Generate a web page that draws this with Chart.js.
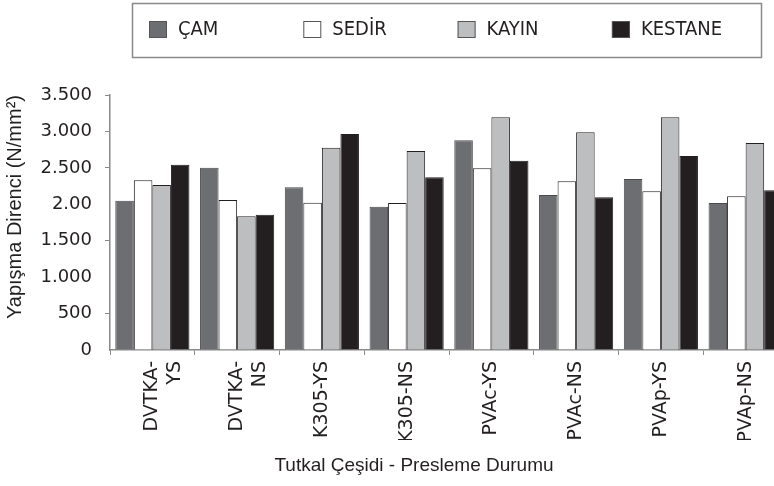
<!DOCTYPE html>
<html>
<head>
<meta charset="utf-8">
<script src="https://cdn.jsdelivr.net/npm/chart.js@4.4.1/dist/chart.umd.min.js"></script>
<style>
  html, body { margin: 0; padding: 0; background: #fff; overflow: hidden; }
  #wrap { width: 788px; height: 486px; }
</style>
</head>
<body>
<div id="wrap"><canvas id="myChart"></canvas></div>
<script>
// categories (glue type - press condition)
var categories = [['DVTKA-', 'YS'], ['DVTKA-', 'NS'], 'K305-YS', 'K305-NS', 'PVAc-YS', 'PVAc-NS', 'PVAp-YS', 'PVAp-NS'];

// wood species
var seriesNames = ['ÇAM', 'SEDİR', 'KAYIN', 'KESTANE'];

// bond strength values (N/mm2, as printed on the axis)
var cam     = [2050, 2502, 2233, 1967, 2878, 2127, 2347, 2018];
var sedir   = [2329, 2059, 2022, 2018, 2494, 2315, 2178, 2110];
var kayin   = [2265, 1835, 2777, 2731, 3194, 2988, 3194, 2841];
var kestane = [2543, 1857, 2965, 2370, 2598, 2096, 2663, 2192];

// y tick labels as printed (note the "2.00")
var yTickLabels = ['0', '500', '1.000', '1.500', '2.00', '2.500', '3.000', '3.500'];

var xTitle = 'Tutkal Çeşidi - Presleme Durumu';
var yTitle = 'Yapışma Direnci (N/mm²)';

var fills = ['#6d6e71', '#ffffff', '#bcbec0', '#231f20'];
var textColor = '#231f20';
var axisColor = '#8a8a8a';
var tickFont = { family: '"DejaVu Sans", Verdana, sans-serif', size: 18 };
var titleFamily = '"Liberation Sans", Arial, sans-serif';

// boxed legend at the top + x axis caption (sits a bit left of the plot centre in the original)
var boxedLegend = {
  id: 'boxedLegend',
  afterDraw: function(chart) {
    var ctx = chart.ctx;
    ctx.save();
    ctx.strokeStyle = axisColor;
    ctx.lineWidth = 1.5;
    ctx.strokeRect(132.5, 3.5, 629, 54);
    ctx.font = '20px "Liberation Sans Narrow", "DejaVu Sans Condensed", sans-serif';
    ctx.textBaseline = 'middle';
    ctx.textAlign = 'left';
    chart.data.datasets.forEach(function(ds, i) {
      var x = 149 + i * 154.3;
      ctx.fillStyle = ds.backgroundColor;
      ctx.fillRect(x, 21, 18, 17);
      ctx.strokeStyle = '#555';
      ctx.lineWidth = 1;
      ctx.strokeRect(x + 0.5, 21.5, 17, 16);
      ctx.fillStyle = textColor;
      ctx.fillText(ds.label, x + 29, 30);
    });
    ctx.font = '19px ' + titleFamily;
    ctx.textAlign = 'center';
    ctx.fillText(xTitle, 414, 466);
    ctx.restore();
  }
};

var datasets = [cam, sedir, kayin, kestane].map(function(vals, i) {
  return {
    label: seriesNames[i],
    data: vals,
    backgroundColor: fills[i],
    borderColor: i === 0 ? '#4a4a4c' : '#231f20',
    borderWidth: 1,
    barPercentage: 1.0,
    categoryPercentage: 0.875
  };
});

var ctx = document.getElementById('myChart').getContext('2d');
var myChart = new Chart(ctx, {
  type: 'bar',
  data: { labels: categories, datasets: datasets },
  plugins: [boxedLegend],
  options: {
    responsive: true,
    maintainAspectRatio: false,
    animation: false,
    layout: { padding: { top: 95, right: 0, left: 0, bottom: 46 } },
    plugins: {
      legend: { display: false },
      tooltip: { enabled: false }
    },
    scales: {
      x: {
        afterFit: function(scale) { scale.height = 90; },
        grid: { offset: true, drawOnChartArea: false, drawTicks: true, tickLength: 5, color: axisColor },
        border: { color: axisColor, width: 1.5 },
        ticks: {
          color: textColor,
          font: { family: tickFont.family, size: 19 },
          minRotation: 90,
          maxRotation: 90,
          autoSkip: false,
          padding: 6
        }
      },
      y: {
        min: 0,
        max: 3500,
        afterFit: function(scale) { scale.width = 110; },
        grid: {
          drawOnChartArea: false,
          tickLength: 5,
          tickColor: function(c) {
            var v = c.tick ? c.tick.value : -1;
            return (v === 2000 || v === 1000 || v === 0) ? 'rgba(0,0,0,0)' : axisColor;
          }
        },
        border: { color: axisColor, width: 1.5 },
        ticks: {
          stepSize: 500,
          color: textColor,
          font: tickFont,
          padding: 13,
          callback: function(v, i) { return yTickLabels[i]; }
        },
        title: {
          display: true,
          text: yTitle,
          align: 'end',
          color: textColor,
          font: { family: titleFamily, size: 20 },
          padding: { top: 3, bottom: 0 }
        }
      }
    }
  }
});
</script>
</body>
</html>
